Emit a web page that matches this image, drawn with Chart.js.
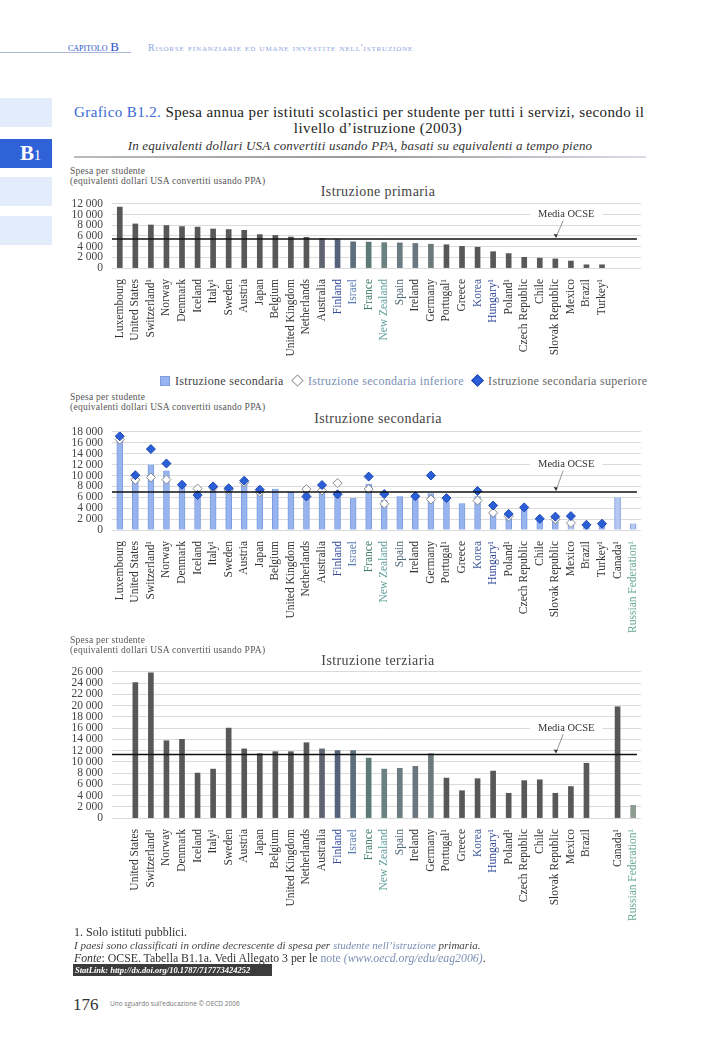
<!DOCTYPE html>
<html lang="it">
<head>
<meta charset="utf-8">
<title>Grafico B1.2</title>
<script src="https://cdn.jsdelivr.net/npm/chart.js"></script>
<style>
  html, body { margin: 0; padding: 0; background: #fff; }
  #page { position: relative; width: 706px; height: 1048px; overflow: hidden; font-family: "Liberation Serif", "DejaVu Serif", serif; color: #222; }
  .abs { position: absolute; line-height: 1; white-space: nowrap; }
  canvas { position: absolute; }
  .tab { position: absolute; left: 0; width: 52px; height: 29px; background: #e3ecfa; }
  .small { font-size: 9.5px; color: #555; letter-spacing: 0.25px; }
  .ctitle { font-size: 14px; color: #444; letter-spacing: 0.4px; transform: translateX(-50%); }
  .sq { display: inline-block; width: 8px; height: 8px; background: #98b4ee; border: 1px solid #7d9de0; margin-right: 5px; vertical-align: -1px; }
  .dia { display: inline-block; width: 7px; height: 7px; transform: rotate(45deg); margin: 0 6px 0 3px; vertical-align: 0px; }
</style>
</head>
<body>
<div id="page">
  <!-- header -->
  <div class="abs" style="left:68px;top:40px;font-size:11px;color:#2a52c9;font-variant:small-caps;">capitolo <span style="font-size:13px;">B</span></div>
  <div class="abs" style="left:0;top:52px;width:131px;height:1px;background:#a9b8d8;"></div>
  <div class="abs" style="left:148px;top:43px;font-size:10px;color:#8ea5e2;font-variant:small-caps;letter-spacing:0.85px;">Risorse finanziarie ed umane investite nell'istruzione</div>

  <!-- side tabs -->
  <div class="tab" style="top:98px;"></div>
  <div class="tab" style="top:139px;background:#2f62d6;"></div>
  <div class="abs" style="left:20px;top:143px;color:#fff;font-weight:bold;font-size:21px;">B<span style="font-size:14px;font-weight:normal;">1</span></div>
  <div class="tab" style="top:177px;"></div>
  <div class="tab" style="top:216px;"></div>

  <!-- title -->
  <div class="abs" style="left:74px;top:105px;font-size:15px;letter-spacing:0.4px;"><span style="color:#3a68d6;">Grafico B1.2.</span> Spesa annua per istituti scolastici per studente per tutti i servizi, secondo il</div>
  <div class="abs" style="left:378px;top:121px;font-size:15px;letter-spacing:0.4px;transform:translateX(-50%);">livello d’istruzione (2003)</div>
  <div class="abs" style="left:360px;top:139px;font-size:13px;letter-spacing:0.2px;font-style:italic;color:#333;transform:translateX(-50%);">In equivalenti dollari USA convertiti usando PPA, basati su equivalenti a tempo pieno</div>
  <div class="abs" style="left:74px;top:156px;width:572px;height:2px;background:linear-gradient(90deg,#bbb,#999 50%,#d8dde8);"></div>

  <!-- chart 1 -->
  <div class="abs small" style="left:70px;top:167px;">Spesa per studente</div>
  <div class="abs small" style="left:70px;top:177px;">(equivalenti dollari USA convertiti usando PPA)</div>
  <div class="abs ctitle" style="left:378px;top:185px;">Istruzione primaria</div>
  <canvas id="c1" width="590" height="184" style="left:60px;top:188px;"></canvas>

  <!-- legend -->
  <div class="abs" style="left:160px;top:375px;font-size:12px;letter-spacing:0.3px;color:#444;">
    <span class="sq"></span>Istruzione secondaria
    <span class="dia" style="background:#fff;border:1px solid #999;margin-left:6px;"></span><span style="color:#7b8fb4;">Istruzione secondaria inferiore</span>
    <span class="dia" style="background:#2a5fd8;border:1px solid #1d46b0;margin-left:6px;"></span><span style="color:#666;">Istruzione secondaria superiore</span>
  </div>

  <!-- chart 2 -->
  <div class="abs small" style="left:70px;top:393px;">Spesa per studente</div>
  <div class="abs small" style="left:70px;top:403px;">(equivalenti dollari USA convertiti usando PPA)</div>
  <div class="abs ctitle" style="left:378px;top:412px;">Istruzione secondaria</div>
  <canvas id="c2" width="590" height="220" style="left:60px;top:416px;"></canvas>

  <!-- chart 3 -->
  <div class="abs small" style="left:70px;top:636px;">Spesa per studente</div>
  <div class="abs small" style="left:70px;top:646px;">(equivalenti dollari USA convertiti usando PPA)</div>
  <div class="abs ctitle" style="left:378px;top:654px;">Istruzione terziaria</div>
  <canvas id="c3" width="590" height="268" style="left:60px;top:656px;"></canvas>

  <!-- footer -->
  <div class="abs" style="left:74px;top:926px;font-size:12px;color:#333;">1. Solo istituti pubblici.</div>
  <div class="abs" style="left:74px;top:940px;font-size:11px;font-style:italic;color:#444;">I paesi sono classificati in ordine decrescente di spesa per <span style="color:#7b8fb4;">studente nell’istruzione</span> primaria.</div>
  <div class="abs" style="left:74px;top:953px;font-size:11.8px;color:#333;"><i>Fonte</i>: OCSE. Tabella B1.1a. Vedi Allegato 3 per le <span style="color:#7b8fb4;">note</span> <i style="color:#7b8fb4;">(www.oecd.org/edu/eag2006)</i>.</div>
  <div class="abs" style="left:73px;top:964px;width:199px;height:12px;background:#3c3c3c;"></div>
  <div class="abs" style="left:75px;top:966px;font-size:8.5px;color:#fff;font-weight:bold;font-style:italic;">StatLink: http://dx.doi.org/10.1787/717773424252</div>
  <div class="abs" style="left:73px;top:996px;font-size:17px;color:#333;">176</div>
  <div class="abs" style="left:110px;top:1001px;font-size:6.5px;color:#777;font-family:'Open Sans',sans-serif;">Uno sguardo sull’educazione © OECD 2006</div>
</div>

<script>
// categories (ordered by primary expenditure)
const countries = ["Luxembourg", "United States", "Switzerland¹", "Norway", "Denmark", "Iceland", "Italy¹", "Sweden",
  "Austria", "Japan", "Belgium", "United Kingdom", "Netherlands", "Australia", "Finland", "Israel", "France",
  "New Zealand", "Spain", "Ireland", "Germany", "Portugal¹", "Greece", "Korea", "Hungary¹", "Poland¹",
  "Czech Republic", "Chile", "Slovak Republic", "Mexico", "Brazil", "Turkey¹", "Canada¹", "Russian Federation¹"];

// Istruzione primaria
const primary = [11400, 8250, 8050, 7950, 7750, 7650, 7300, 7200, 7050, 6250, 6100, 5800, 5750, 5500, 5300, 4900, 4850,
  4750, 4700, 4600, 4450, 4350, 4050, 3900, 3050, 2700, 2000, 1850, 1700, 1300, 600, 600, null, null];
// Istruzione secondaria (bars) + inferiore / superiore (diamonds)
const secondary = [16800, 9600, 12000, 10900, 8400, 6900, 7700, 7300, 8600, 7150, 7550, 6950, 7150, 7300, 7150, 5850, 8500,
  5550, 6200, 6200, 6750, 5900, 4900, 6200, 3400, 2700, 4000, 1950, 2200, 1600, 1000, 1100, 6000, 1200];
const lowerSecondary = [16600, 9200, 9650, 9250, null, 7600, 7750, 7350, 8700, 6950, null, null, 7500, 7250, 8600, null, 7500,
  4800, null, null, 5600, null, null, 5400, 3150, 2500, null, null, 1950, 1300, null, null, null, null];
const upperSecondary = [17200, 10050, 14850, 12200, 8300, 6400, 8000, 7650, 9050, 7400, null, null, 6150, 8250, 6550, null, 9800,
  6600, null, 6200, 10000, 5850, null, 7150, 4500, 2950, 4150, 2050, 2450, 2550, 950, 1150, null, null];
// Istruzione terziaria
const tertiary = [null, 24100, 25850, 13750, 14000, 8000, 8700, 16000, 12300, 11450, 11800, 11800, 13400, 12300, 12000, 12000, 10650,
  8700, 8850, 9200, 11450, 7100, 4850, 7000, 8350, 4400, 6650, 6800, 4400, 5600, 9750, null, 19800, 2250];

// OECD averages (Media OCSE)
const mediaPrimary = 5450;
const mediaSecondary = 6950;
const mediaTertiary = 11300;

const serif = '"Liberation Serif", "DejaVu Serif", serif';

// label tints as printed
const labelTint = {
  "Finland": "#34489a", "Israel": "#5a7cb4", "France": "#3d7a62", "New Zealand": "#62a09a",
  "Spain": "#4f6878", "Hungary¹": "#34489a", "Korea": "#3f5a9a", "Russian Federation¹": "#68ab90"
};
const barTint = {
  "Australia": "#5e6472", "Finland": "#56627c", "Israel": "#5c6f7c", "France": "#5f7a76",
  "New Zealand": "#6b8280", "Spain": "#6a7b82", "Ireland": "#6a7780", "Germany": "#6c7a7c"
};

function fmt(v) {
  return String(v).replace(/\B(?=(\d{3})+(?!\d))/g, ' ');
}

function labelsFor(values) {
  return countries.map((c, i) => values[i] == null ? '' : c);
}

// draws the OECD mean line and its "Media OCSE" callout
const mediaPlugin = {
  id: 'media',
  beforeDatasetsDraw(chart, args, opts) {
    const { ctx, scales } = chart;
    const lx = scales.x.getPixelForValue(28.7);
    const ly = scales.y.getPixelForValue(opts.labelAt);
    const y = scales.y.getPixelForValue(opts.value);
    ctx.save();
    ctx.font = '10.5px ' + serif;
    const w = ctx.measureText('Media OCSE').width;
    ctx.fillStyle = '#fff';
    ctx.fillRect(lx - w / 2 - 8, ly - 3, w + 16, 6);
    ctx.fillStyle = '#333';
    ctx.textAlign = 'center';
    ctx.textBaseline = 'middle';
    ctx.fillText('Media OCSE', lx, ly);
    const ax = scales.x.getPixelForValue(28.05);
    ctx.strokeStyle = '#777';
    ctx.lineWidth = 0.8;
    ctx.beginPath();
    ctx.moveTo(lx - 3, ly + 6);
    ctx.lineTo(ax, y - 2);
    ctx.stroke();
    ctx.fillStyle = '#333';
    ctx.beginPath();
    ctx.moveTo(ax, y - 1);
    ctx.lineTo(ax - 2.5, y - 5);
    ctx.lineTo(ax + 1.5, y - 4.5);
    ctx.closePath();
    ctx.fill();
    ctx.restore();
  },
  afterDatasetsDraw(chart, args, opts) {
    const { ctx, chartArea, scales } = chart;
    const y = scales.y.getPixelForValue(opts.value);
    ctx.save();
    ctx.strokeStyle = '#111';
    ctx.lineWidth = 1.5;
    ctx.beginPath();
    ctx.moveTo(chartArea.left, y);
    ctx.lineTo(chartArea.right - 4, y);
    ctx.stroke();
    ctx.restore();
  }
};

function makeChart(id, datasets, labels, max, xHeight, media) {
  return new Chart(document.getElementById(id), {
    type: 'bar',
    data: { labels: labels, datasets: datasets },
    plugins: [mediaPlugin],
    options: {
      responsive: false,
      animation: false,
      layout: { padding: { top: 12, right: 5, left: 0, bottom: 0 } },
      plugins: {
        legend: { display: false },
        tooltip: { enabled: false },
        media: media
      },
      scales: {
        x: {
          offset: true,
          grid: { display: false },
          border: { display: false },
          ticks: {
            autoSkip: false, minRotation: 90, maxRotation: 90, padding: 3,
            font: { family: serif, size: 11.5 },
            color: c => labelTint[countries[c.index]] || '#333'
          },
          afterFit(s) { s.height = xHeight; }
        },
        y: {
          min: 0, max: max,
          grid: { color: '#d2d2d2', lineWidth: 0.8, drawTicks: false },
          border: { display: false },
          ticks: {
            stepSize: 2000, autoSkip: false, padding: 9, color: '#444',
            font: { family: serif, size: 11.5 },
            callback: v => fmt(v)
          },
          afterFit(s) { s.width = 52; }
        }
      }
    }
  });
}

makeChart('c1', [{
  data: primary,
  backgroundColor: countries.map(c => barTint[c] || '#585858'),
  barThickness: 5
}], labelsFor(primary), 12000, 104, { value: mediaPrimary, labelAt: 10000 });

makeChart('c2', [
  {
    type: 'line', data: upperSecondary, showLine: false, order: 0,
    pointStyle: 'rectRot', pointRadius: 4.5, pointBackgroundColor: '#2a5fd8', pointBorderColor: '#1d46b0', pointBorderWidth: 1
  },
  {
    type: 'line', data: lowerSecondary, showLine: false, order: 1,
    pointStyle: 'rectRot', pointRadius: 4.5, pointBackgroundColor: '#ffffff', pointBorderColor: '#8a8a8a', pointBorderWidth: 1
  },
  {
    data: secondary, order: 2,
    backgroundColor: countries.map(c => (c === 'Russian Federation¹' || c === 'Canada¹' || c === 'Mexico') ? '#b4c8f2' : '#98b4ee'),
    borderColor: '#7d9de0', borderWidth: { left: 1, right: 1, top: 0, bottom: 0 },
    barThickness: 6
  }
], labelsFor(secondary), 18000, 106, { value: mediaSecondary, labelAt: 12000 });

makeChart('c3', [{
  data: tertiary,
  backgroundColor: countries.map(c => c === 'Russian Federation¹' ? '#8e9c92' : (barTint[c] || '#585858')),
  barThickness: 5
}], labelsFor(tertiary), 26000, 106, { value: mediaTertiary, labelAt: 16000 });
</script>
</body>
</html>
